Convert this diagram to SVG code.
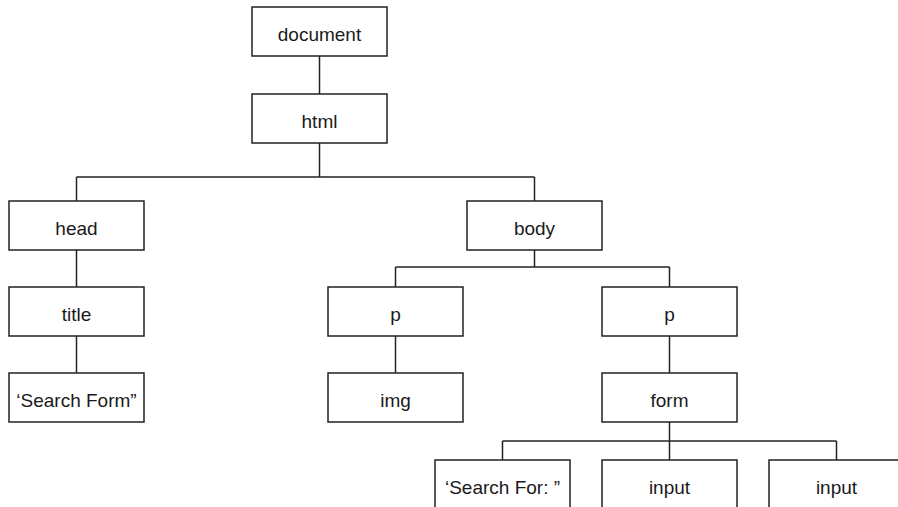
<svg xmlns="http://www.w3.org/2000/svg" width="898" height="507" viewBox="0 0 898 507">
<style>
rect{fill:#fff;stroke:#222;stroke-width:1.5}
text{font-family:"Liberation Sans",Arial,sans-serif;font-size:19px;fill:#1a1a1a;text-anchor:middle}
.c line{stroke:#222;stroke-width:1.5}
</style>
<rect x="0" y="0" width="898" height="507" style="stroke:none"/>
<g class="c" id="connectors">
<line x1="319.5" y1="56" x2="319.5" y2="94"/>
<line x1="319.5" y1="143" x2="319.5" y2="177"/>
<line x1="76.5" y1="177" x2="534.5" y2="177"/>
<line x1="76.5" y1="177" x2="76.5" y2="201"/>
<line x1="534.5" y1="177" x2="534.5" y2="201"/>
<line x1="76.5" y1="250" x2="76.5" y2="287"/>
<line x1="76.5" y1="336" x2="76.5" y2="373"/>
<line x1="534.5" y1="250" x2="534.5" y2="267"/>
<line x1="395.5" y1="267" x2="669.5" y2="267"/>
<line x1="395.5" y1="267" x2="395.5" y2="287"/>
<line x1="669.5" y1="267" x2="669.5" y2="287"/>
<line x1="395.5" y1="336" x2="395.5" y2="373"/>
<line x1="669.5" y1="336" x2="669.5" y2="373"/>
<line x1="669.5" y1="422" x2="669.5" y2="460"/>
<line x1="502.5" y1="441" x2="836.5" y2="441"/>
<line x1="502.5" y1="441" x2="502.5" y2="460"/>
<line x1="836.5" y1="441" x2="836.5" y2="460"/>
</g>
<g id="document"><rect x="252" y="7" width="135" height="49"/><text x="319.5" y="41">document</text></g>
<g id="html"><rect x="252" y="94" width="135" height="49"/><text x="319.5" y="128">html</text></g>
<g id="head"><rect x="9" y="201" width="135" height="49"/><text x="76.5" y="235">head</text></g>
<g id="body"><rect x="467" y="201" width="135" height="49"/><text x="534.5" y="235">body</text></g>
<g id="title"><rect x="9" y="287" width="135" height="49"/><text x="76.5" y="321">title</text></g>
<g id="p1"><rect x="328" y="287" width="135" height="49"/><text x="395.5" y="321">p</text></g>
<g id="p2"><rect x="602" y="287" width="135" height="49"/><text x="669.5" y="321">p</text></g>
<g id="searchform"><rect x="9" y="373" width="135" height="49"/><text x="76.5" y="407">‘Search Form”</text></g>
<g id="img"><rect x="328" y="373" width="135" height="49"/><text x="395.5" y="407">img</text></g>
<g id="form"><rect x="602" y="373" width="135" height="49"/><text x="669.5" y="407">form</text></g>
<g id="searchfor"><rect x="435" y="460" width="135" height="49"/><text x="502.5" y="494">‘Search For: ”</text></g>
<g id="input1"><rect x="602" y="460" width="135" height="49"/><text x="669.5" y="494">input</text></g>
<g id="input2"><rect x="769" y="460" width="135" height="49"/><text x="836.5" y="494">input</text></g>
</svg>
